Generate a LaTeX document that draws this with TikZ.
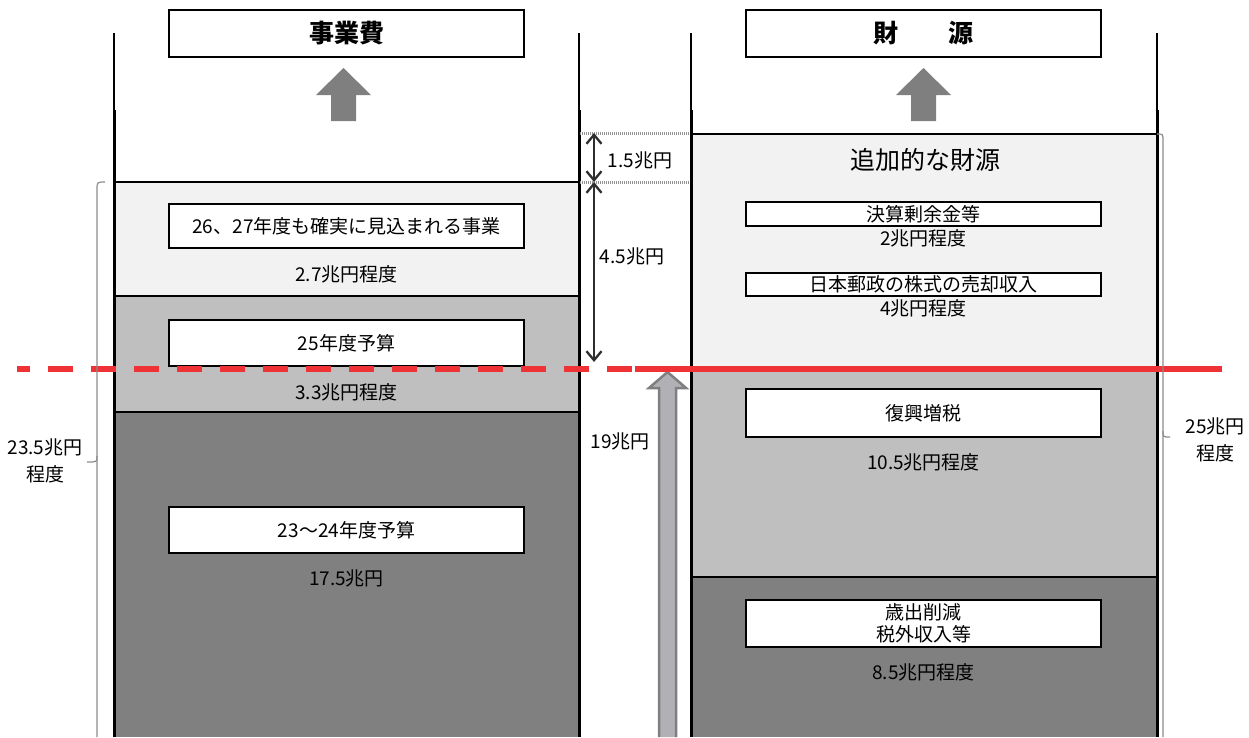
\documentclass[tikz,border=0pt]{standalone}
\usepackage{fontspec}
\setmainfont{Noto Sans CJK JP}
\usetikzlibrary{arrows.meta}
\definecolor{lightfill}{HTML}{F2F2F2}
\definecolor{midfill}{HTML}{BFBFBF}
\definecolor{darkfill}{HTML}{808080}
\definecolor{redline}{HTML}{EE3236}
\definecolor{arrowgray}{HTML}{7F7F7F}
\definecolor{bigarrowfill}{HTML}{B1B1B5}
\definecolor{dimgray}{HTML}{2E2E2E}
\definecolor{bracegray}{HTML}{8C8C8C}
\begin{document}
\begin{tikzpicture}[x=1pt,y=-1pt,
  lbl/.style={font=\fontsize{19}{27}\selectfont, inner sep=0pt, align=center},
  wbox/.style={draw=black, line width=2.5pt, fill=white, minimum width=355pt, inner sep=0pt,
               font=\fontsize{19}{22}\selectfont, align=center},
  tbox/.style={wbox, line width=2.8pt, minimum height=47pt, font=\fontsize{25}{28}\selectfont\bfseries},
  sbox/.style={wbox, line width=2pt},
  sep/.style={line width=2.5pt, black},
  dim/.style={{Straight Barb[length=9pt,width=15pt]}-{Straight Barb[length=9pt,width=15pt]}, line width=2.3pt, dimgray},
  dotline/.style={line width=3pt, gray!85, dash pattern=on 1pt off 1pt},
  brace/.style={line width=1.2pt, bracegray},
  blockarrow/.style={fill=arrowgray}
]
\useasboundingbox (0,0) rectangle (1249,737);

% ---------- left column fills ----------
\fill[lightfill] (114,182) rectangle (579,296);
\fill[midfill] (114,296) rectangle (579,412);
\fill[darkfill] (114,412) rectangle (579,737);
\draw[sep] (114,182) -- (579,182);
\draw[sep] (114,296) -- (579,296);
\draw[sep] (114,412) -- (579,412);

% ---------- right column fills ----------
\fill[lightfill] (691,134) rectangle (1157,368);
\fill[midfill] (691,368) rectangle (1157,577);
\fill[darkfill] (691,577) rectangle (1157,737);
\draw[sep] (691,134) -- (1157,134);
\draw[sep] (691,577) -- (1157,577);

% ---------- column walls ----------
\foreach \xx in {114,579,691,1157}{
  \draw[line width=1.5pt] (\xx,33) -- (\xx,110);
  \draw[line width=3pt] (\xx,110) -- (\xx,737);
}

% ---------- middle dotted guides ----------
\draw[dotline] (580,133) -- (690,133);
\draw[dotline] (580,182) -- (690,182);

% ---------- titles and block arrows ----------
\node[tbox] (jigyo) at (346.5,33.5) {事業費};
\node[tbox] (zaigen) at (923.5,33.5) {財　　源};
\fill[blockarrow] (343.5,68) -- (371,95) -- (356,95) -- (356,121) -- (331,121) -- (331,95) -- (316,95) -- cycle;
\fill[blockarrow] (923.5,68) -- (951,95) -- (936,95) -- (936,121) -- (911,121) -- (911,95) -- (896,95) -- cycle;

% ---------- left boxes and labels ----------
\node[wbox, minimum height=44pt] (b26) at (346.5,226) {26、27年度も確実に見込まれる事業};
\node[lbl] (l27) at (346.5,274) {2.7兆円程度};
\node[wbox, minimum height=46pt] (b25) at (346.5,343) {25年度予算};
\node[lbl] (l33) at (346.5,392) {3.3兆円程度};
\node[wbox, minimum height=46pt] (b23) at (346.5,530) {23～24年度予算};
\node[lbl] (l175) at (346.5,578) {17.5兆円};

% ---------- right boxes and labels ----------
\node[lbl, font=\fontsize{25}{28}\selectfont] (tsuika) at (925,160) {追加的な財源};
\node[sbox, minimum height=24pt] (kessan) at (923.5,214) {決算剰余金等};
\node[lbl] (l2) at (923.5,238) {2兆円程度};
\node[sbox, minimum height=23pt] (yusei) at (923.5,284.5) {日本郵政の株式の売却収入};
\node[lbl] (l4) at (923.5,308) {4兆円程度};
\node[wbox, minimum height=48pt] (fukko) at (923.5,413) {復興増税};
\node[lbl] (l105) at (923.5,462) {10.5兆円程度};
\node[wbox, minimum height=47pt, font=\fontsize{19}{22}\selectfont] (saishutsu) at (923.5,623.5) {歳出削減\\税外収入等};
\node[lbl] (l85) at (923.5,672) {8.5兆円程度};

% ---------- big middle arrow ----------
\fill[bigarrowfill] (667.5,372) -- (686,388) -- (676,388) -- (676,737) -- (659,737) -- (659,388) -- (649,388) -- cycle;
\draw[line width=2.5pt, arrowgray, line join=miter] (676,737) -- (676,388) -- (686,388) -- (667.5,372) -- (649,388) -- (659,388) -- (659,737);

% ---------- red line ----------
\coordinate (r0) at (17,369);
\coordinate (r1) at (635,369);
\coordinate (r2) at (1222,369);
\draw[redline, line width=5.5pt, dash pattern=on 24.5pt off 18.5pt, dash phase=12pt] (r0) -- (r1);
\draw[redline, line width=5.5pt] (r1) -- (r2);

% ---------- dimension arrows ----------
\coordinate (d0) at (594,133);
\coordinate (d1) at (594,182);
\coordinate (d2) at (594,362);
\draw[dim] (d0) -- (d1);
\draw[dim] (d1) -- (d2);
\node[lbl] (l15) at (640,160) {1.5兆円};
\node[lbl] (l45) at (632,256) {4.5兆円};
\node[lbl] (l19) at (620,441) {19兆円};

% ---------- braces ----------
\draw[brace] (105,182) .. controls (97,182) .. (97,190) -- (97,737);
\draw[brace] (97,456) .. controls (97,462) .. (87,462);
\node[lbl] (l235) at (45,461) {23.5兆円\\程度};

\draw[brace] (1157,134) .. controls (1163,134) .. (1163,141) -- (1163,737);
\draw[brace] (1163,431) .. controls (1163,437) .. (1170,437);
\node[lbl] (l25) at (1215,440) {25兆円\\程度};
\end{tikzpicture}
\end{document}
